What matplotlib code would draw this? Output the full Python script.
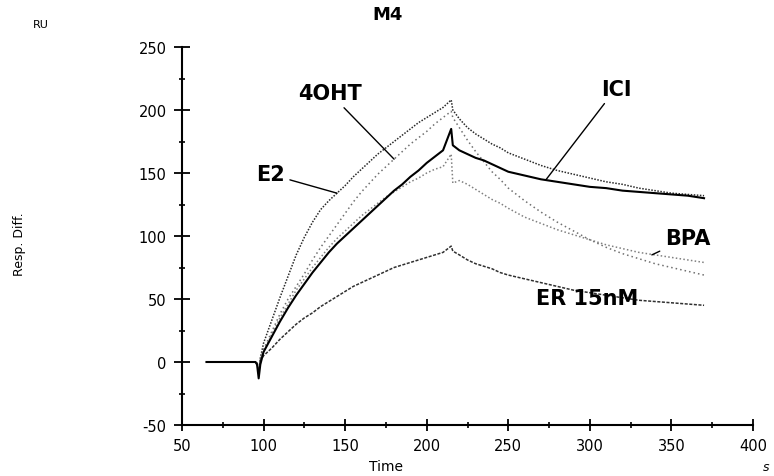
import matplotlib
matplotlib.use("Agg")
import matplotlib.pyplot as plt
from matplotlib.ticker import MultipleLocator

plt.rcParams["axes.unicode_minus"] = False

# ---- data ----
time = [65, 70, 75, 80, 85, 90, 95, 96, 97, 98,
        100, 105, 110, 115, 120, 125, 130, 135, 140, 145, 150, 155, 160, 165,
        170, 175, 180, 185, 190, 195, 200, 205, 210, 215, 216,
        220, 225, 230, 235, 240, 245, 250,
        260, 270, 280, 290, 300, 310, 320, 330, 340, 350, 360, 370]

base = [0, 0, 0, 0, 0, 0, 0]

e2 = base + [-1, -8, 3,
             15, 33, 51, 68, 85, 99, 111, 121, 128, 134, 140, 147, 153, 159,
             165, 170, 175, 180, 185, 190, 194, 198, 202, 208, 200,
             193, 186, 181, 177, 173, 170, 166,
             161, 156, 152, 149, 146, 143, 141, 138, 136, 134, 133, 132]

oht = base + [-1, -6, 2,
              10, 24, 38, 50, 60, 70, 81, 91, 100, 109, 118, 127, 135, 142,
              149, 155, 161, 167, 173, 178, 183, 189, 194, 199, 194,
              186, 176, 167, 159, 151, 145, 138,
              128, 119, 111, 104, 97, 91, 86, 82, 78, 75, 72, 69]

ici = base + [-2, -13, -2,
              8, 20, 32, 43, 53, 62, 71, 79, 87, 94, 100, 106, 112, 118,
              124, 130, 136, 141, 147, 152, 158, 163, 168, 185, 172,
              168, 165, 162, 160, 157, 154, 151,
              148, 145, 143, 141, 139, 138, 136, 135, 134, 133, 132, 130]

bpa = base + [-1, -7, 2,
              8, 22, 35, 46, 57, 66, 75, 83, 91, 98, 104, 110, 116, 121,
              126, 131, 135, 139, 143, 146, 150, 153, 155, 165, 142,
              144, 141, 137, 133, 129, 126, 122,
              115, 110, 105, 101, 97, 93, 90, 87, 85, 83, 81, 79]

er = base + [-1, -9, 1,
             5, 11, 18, 24, 30, 35, 39, 44, 48, 52, 56, 60, 63, 66,
             69, 72, 75, 77, 79, 81, 83, 85, 87, 92, 88,
             85, 81, 78, 76, 74, 71, 69,
             66, 63, 60, 57, 55, 53, 51, 49, 48, 47, 46, 45]

x_ticks = [50, 100, 150, 200, 250, 300, 350, 400]
y_ticks = [-50, 0, 50, 100, 150, 200, 250]

# ---- figure ----
fig = plt.figure(figsize=(7.74, 4.77), dpi=100)
ax = fig.add_axes([182/774, 1-426/477, (753-182)/774, (426-48)/477])

ax.plot(time, e2, color="#2a2a2a", lw=1.1, ls=(0, (1, 1)))
ax.plot(time, oht, color="#707070", lw=1.1, ls=(0, (1, 2)))
ax.plot(time, bpa, color="#808080", lw=1.1, ls=(0, (1, 1.5)))
ax.plot(time, er, color="#303030", lw=1.1, ls=(0, (2, 1)))
ax.plot(time, ici, color="black", lw=1.5)

ax.set_xlim(50, 400)
ax.set_ylim(-50, 250)
ax.set_xticks(x_ticks)
ax.set_yticks(y_ticks)
ax.xaxis.set_minor_locator(MultipleLocator(25))
ax.yaxis.set_minor_locator(MultipleLocator(25))

for s in ["top", "right"]:
    ax.spines[s].set_visible(False)
for s in ["left", "bottom"]:
    ax.spines[s].set_linewidth(1.5)
    ax.spines[s].set_color("black")

ax.tick_params(axis="y", which="major", direction="inout", length=12, width=1.3,
               labelsize=10.5, pad=5)
ax.tick_params(axis="x", which="major", direction="inout", length=9, width=1.3,
               labelsize=10.5, pad=5)
ax.tick_params(which="minor", direction="inout", length=4, width=1.2)

lab = dict(fontsize=15, fontweight="bold", ha="center", va="center")
arr = dict(arrowstyle="-", color="black", lw=1.0, shrinkA=2, shrinkB=0)
ax.annotate("4OHT", xy=(180, 161), xytext=(140.5, 213.5), arrowprops=arr, **lab)
ax.annotate("E2", xy=(145, 134), xytext=(104, 149), arrowprops=arr, **lab)
ax.annotate("ICI", xy=(273, 144.5), xytext=(316, 217), arrowprops=arr, **lab)
ax.annotate("BPA", xy=(338, 85), xytext=(360, 98.5), arrowprops=arr, **lab)
ax.text(298.5, 51, "ER 15nM", **lab)

fig.text(388/774, 1-15/477, "M4", fontsize=13, fontweight="bold", ha="center", va="center")
fig.text(41/774, 1-25/477, "RU", fontsize=8, ha="center", va="center")
fig.text(20/774, 1-244/477, "Resp. Diff.", fontsize=9, rotation=90, ha="center", va="center")
fig.text(386/774, 1-467/477, "Time", fontsize=10, ha="center", va="center")
fig.text(766/774, 1-468/477, "s", fontsize=9, style="italic", ha="center", va="center")

fig.savefig("out.png", dpi=100)
